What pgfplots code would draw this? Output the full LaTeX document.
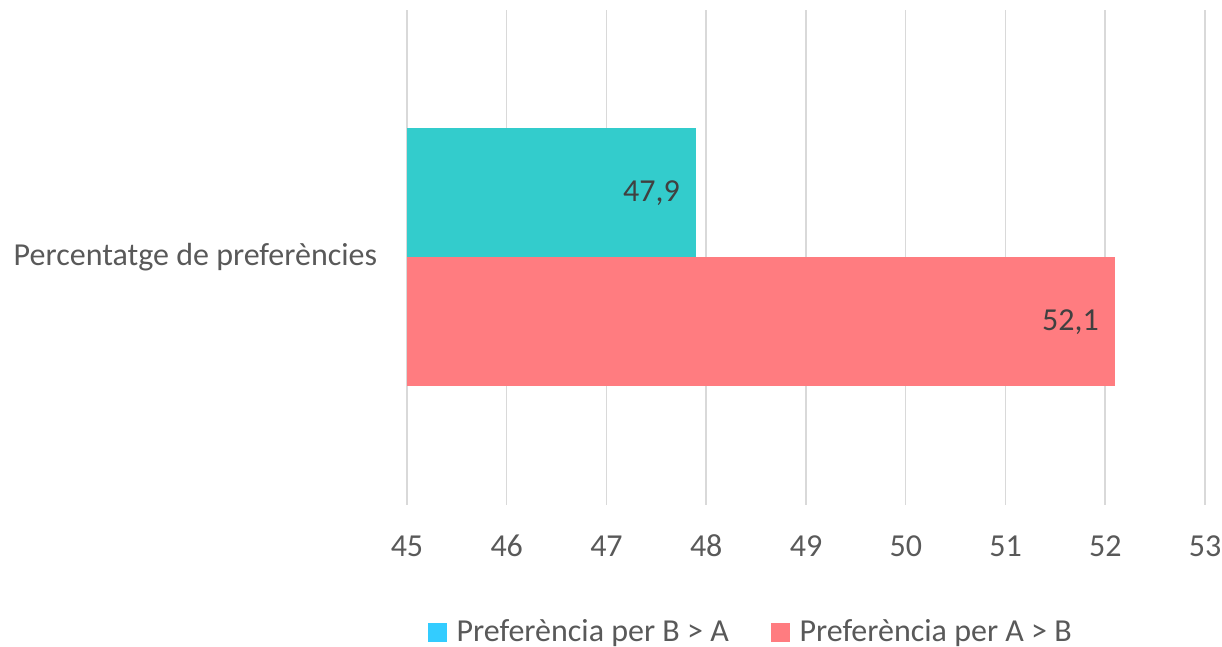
\documentclass[border=0pt]{standalone}
\usepackage{fontspec}
\setmainfont{Carlito}
\usepackage{pgfplots}
\pgfplotsset{compat=1.18}
\definecolor{teal1}{HTML}{33CCCC}
\definecolor{sky1}{HTML}{33CCFF}
\definecolor{salmon1}{HTML}{FF7C80}
\definecolor{gridc}{HTML}{D9D9D9}
\definecolor{txt}{HTML}{595959}
\definecolor{lab}{HTML}{404040}
\begin{document}
\begin{tikzpicture}
\path[use as bounding box] (-203.5pt,-71pt) rectangle (407.5pt,252.5pt);
\begin{axis}[
  at={(0,0)}, anchor=south west,
  scale only axis,
  width=399pt, height=247.5pt,
  xmin=45, xmax=53, ymin=0, ymax=1,
  xtick={45,...,53},
  ytick={0.5},
  yticklabels={Percentatge de preferències},
  xmajorgrids, major grid style={gridc, line width=0.75pt},
  axis line style={draw=none},
  tick style={draw=none},
  /pgf/number format/assume math mode=true,
  xticklabel style={font=\fontsize{16}{19}\selectfont, text=txt, inner sep=0pt, anchor=base, yshift=-26pt},
  yticklabel style={font=\fontsize{16}{19}\selectfont, text=txt, inner sep=0pt, anchor=east, xshift=-10.5pt},
  xbar, bar width=64.5pt,
  nodes near coords,
  nodes near coords style={font=\fontsize{16}{19}\selectfont, text=lab, inner sep=0pt, anchor=east, xshift=-8pt,
    /pgf/number format/use comma, /pgf/number format/fixed, /pgf/number format/precision=1, /pgf/number format/fixed zerofill},
  clip=true,
  legend columns=2,
  legend style={at={(0.432,-0.257)}, anchor=center, draw=none, fill=none,
    font=\fontsize{16}{19}\selectfont, text=txt,
    /tikz/every even column/.append style={column sep=19pt}},
]
\addplot[fill=teal1, draw=none, bar shift=32.25pt, forget plot] coordinates {(47.9,0.5)};
\addplot[fill=salmon1, draw=none, bar shift=-32.25pt, forget plot] coordinates {(52.1,0.5)};
\addlegendimage{legend image code/.code={\fill[sky1] (0pt,-4.5pt) rectangle (9pt,4.5pt); \path (12pt,0pt);}}
\addlegendentry{Preferència per B > A}
\addlegendimage{legend image code/.code={\fill[salmon1] (0pt,-4.5pt) rectangle (9pt,4.5pt); \path (12pt,0pt);}}
\addlegendentry{Preferència per A > B}
\end{axis}
\end{tikzpicture}
\end{document}
